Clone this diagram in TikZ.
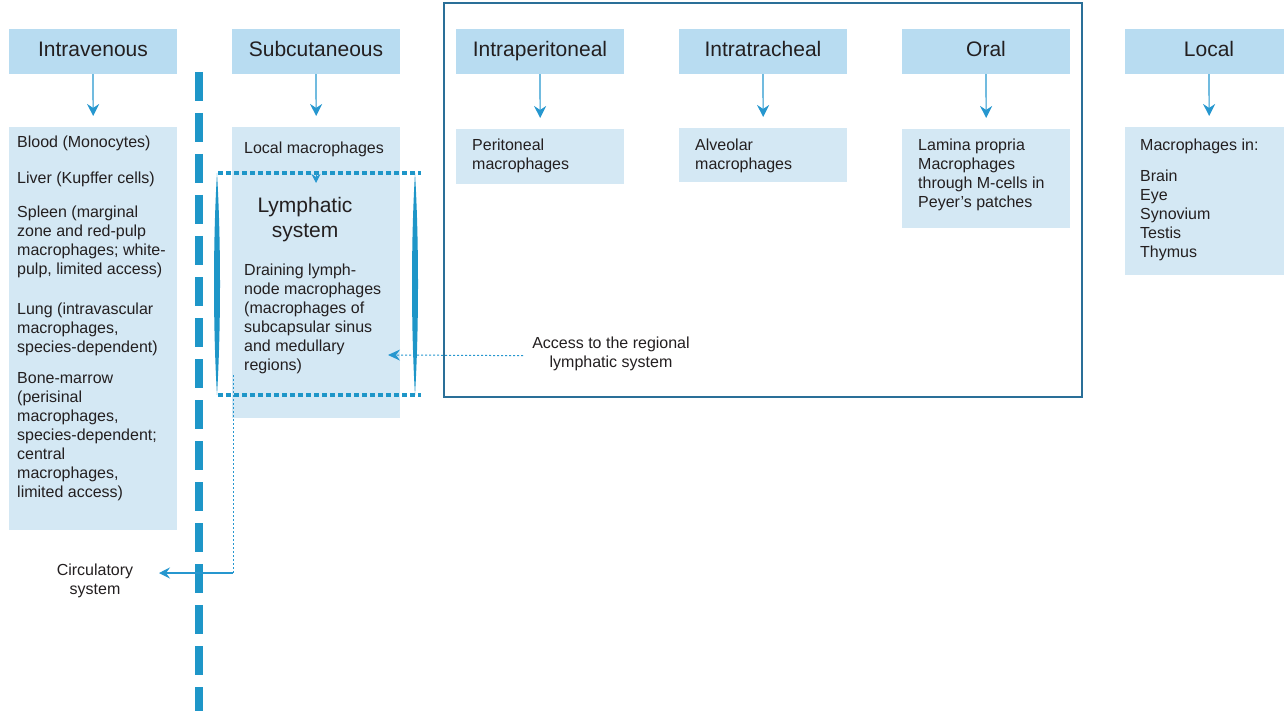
\documentclass[tikz,border=0pt]{standalone}
\usepackage{fontspec}
\setmainfont{Liberation Sans}
\usetikzlibrary{arrows.meta}
\definecolor{headfill}{HTML}{B8DCF1}
\definecolor{boxfill}{HTML}{D4E8F4}
\definecolor{arrblue}{HTML}{2697CF}
\definecolor{lineblue}{HTML}{1E96C8}
\definecolor{frameblue}{HTML}{2A6F98}
\definecolor{txtgray}{HTML}{231F20}

\begin{document}
\begin{tikzpicture}[x=1pt, y=-1pt,
    head/.style={fill=headfill, minimum width=168pt, minimum height=45pt,
      inner sep=0pt, text=txtgray, text height=15pt, text depth=4pt,
      font=\fontsize{21}{25}\selectfont},
    cbox/.style={fill=boxfill, anchor=north west, inner sep=0pt, minimum width=168pt},
    txt/.style={anchor=north west, inner sep=0pt, align=left, text=txtgray,
      font=\fontsize{16}{19}\selectfont},
    arr/.style={draw=arrblue, line width=1.2pt,
      -{Stealth[length=12pt, width=12pt, inset=4pt]}, shorten >=11pt},
    dots/.style={draw=arrblue, line width=1pt, dash pattern=on 2pt off 2pt}]
    \clip (0,0) rectangle (1284,711);
    \fill[white] (0,0) rectangle (1284,711);
    % routes of administration
    \foreach \nm/\x/\lbl in {iv/93/Intravenous, sc/316/Subcutaneous,
      ip/540/Intraperitoneal, it/763/Intratracheal, oral/986/Oral, loc/1209/Local}
    \node[head] (h\nm) at (\x,51.5) {\lbl};
    % reached macrophages
    \node[cbox, minimum height=403pt] (biv) at (9,127) {};
    \node[cbox, minimum height=291pt] (bsc) at (232,127) {};
    \node[cbox, minimum height=55pt] (bip) at (456,129) {};
    \node[cbox, minimum height=54pt] (bit) at (679,128) {};
    \node[cbox, minimum height=99pt] (boral) at (902,129) {};
    \node[cbox, minimum height=148pt] (bloc) at (1125,127) {};
    \foreach \nm in {iv,sc,ip,it,oral,loc}
    \draw[arr] (h\nm.south) -- (b\nm.north);
    % mucosal routes
    \draw[frameblue, line width=2.5pt] (444,3) rectangle (1082,397);
    % blood barrier
    \draw[lineblue, line width=8pt, dash pattern=on 29pt off 12pt] (199,72) -- (199,711);
    % lymphatic system
    \draw[lineblue, line width=4.5pt, dash pattern=on 5pt off 3pt] (218,173) -- (421,173);
    \draw[lineblue, line width=4.5pt, dash pattern=on 5pt off 3pt] (218,395) -- (421,395);
    \foreach \x in {217,415}
    \fill[lineblue] (\x,173) .. controls (\x-4,240) and (\x-4,328) .. (\x,395)
      .. controls (\x+4,328) and (\x+4,240) .. (\x,173);
    \node[txt] (ivtxt) at (17,136) {Blood (Monocytes)\\[17pt]
      Liver (Kupffer cells)\\[15pt]
      Spleen (marginal\\zone and red-pulp\\macrophages; white-\\pulp, limited access)\\[21pt]
      Lung (intravascular\\macrophages,\\species-dependent)\\[12pt]
      Bone-marrow\\(perisinal\\macrophages,\\species-dependent;\\central\\macrophages,\\limited access)};
    \node[txt] (sclocal) at (244,142) {Local macrophages};
    \node[txt, anchor=north, align=center, font=\fontsize{21}{25}\selectfont] (lymph)
      at (305,197) {Lymphatic\\system};
    \node[txt] (drain) at (244,264) {Draining lymph-\\node macrophages\\(macrophages of\\subcapsular sinus\\and medullary\\regions)};
    \node[txt] (iptxt) at (472,139) {Peritoneal\\macrophages};
    \node[txt] (ittxt) at (695,139) {Alveolar\\macrophages};
    \node[txt] (oraltxt) at (918,139) {Lamina propria\\Macrophages\\through M-cells in\\Peyer’s patches};
    \node[txt] (loctxt) at (1140,139) {Macrophages in:\\[12pt] Brain\\Eye\\Synovium\\Testis\\Thymus};
    \node[txt, anchor=north, align=center] (access) at (611,337) {Access to the regional\\lymphatic system};
    \node[txt, anchor=north, align=center] (circ) at (95,564) {Circulatory\\system};
    % connectors
    \coordinate (lymtop) at (316,172);
    \coordinate (lymin) at (316,183);
    \draw[draw=arrblue, line width=1pt, -{Stealth[length=9pt, width=9pt, inset=3pt]}] (lymtop) -- (lymin);
    \coordinate (accin) at (388,355);
    \draw[dots, -{Stealth[length=12pt, width=11pt, inset=4pt]}] ([xshift=-9pt, yshift=-1.5pt]access.west) -- (accin);
    \coordinate (lymout) at (233,375);
    \coordinate (circbend) at (233,573);
    \coordinate (circin) at (159,573);
    \draw[dots] (lymout) -- (circbend);
    \draw[draw=arrblue, line width=1.3pt, -{Stealth[length=11pt, width=11pt, inset=4pt]}] (circbend) -- (circin);
\end{tikzpicture}
\end{document}
